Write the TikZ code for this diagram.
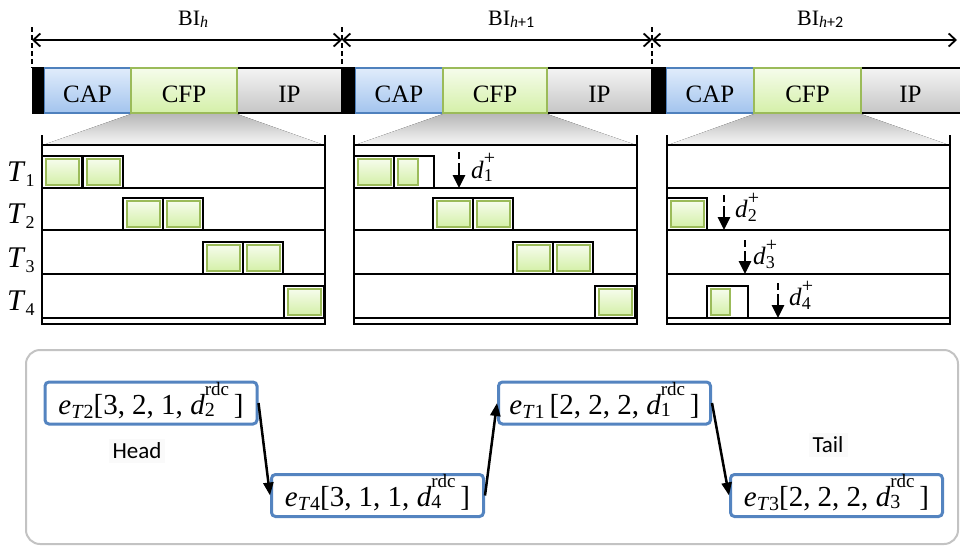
\documentclass[tikz,border=0pt]{standalone}
\usepackage{fontspec}
\setmainfont{Liberation Serif}
\newfontfamily\carlito{Carlito}
\usetikzlibrary{arrows.meta}

\definecolor{capblue}{RGB}{79,129,189}
\definecolor{captop}{RGB}{224,236,251}
\definecolor{capbot}{RGB}{163,196,238}
\definecolor{cfpgreen}{RGB}{155,187,89}
\definecolor{cfptop}{RGB}{246,252,236}
\definecolor{cfpbot}{RGB}{212,240,168}
\definecolor{iptop}{RGB}{244,244,244}
\definecolor{ipbot}{RGB}{198,198,198}
\definecolor{framegray}{RGB}{195,195,195}
\definecolor{nodeblue}{RGB}{84,132,192}

% superscript and subscript stacked after a base letter
% #1 sup size, #2 sup text, #3 raise, #4 sub size, #5 sub text, #6 lower
\newcommand{\SupSub}[6]{%
  \begingroup
  \setbox0=\hbox{\fontsize{#1}{#1}\selectfont #2}%
  \setbox2=\hbox{\fontsize{#4}{#4}\selectfont #5}%
  \dimen0=\wd0 \ifdim\wd2>\dimen0 \dimen0=\wd2 \fi
  \hbox to \dimen0{\rlap{\raise#3\box0}\lower#6\box2\hss}%
  \endgroup}
% lowered subscript
\newcommand{\Lsub}[3]{\lower#2\hbox{\fontsize{#1}{#1}\selectfont #3}}
% entry of the chain: device number, gap, fields, device number of d
\newcommand{\Entry}[4]{\textit{e}\Lsub{20pt}{4pt}{\textit{T}#1}#2[#3, \textit{d}\SupSub{19pt}{rdc}{19pt}{20pt}{#4}{2pt}\,]}

\begin{document}
\begin{tikzpicture}[x=1pt,y=-1pt,
  capbox/.style={draw=capblue, line width=1.8pt, top color=captop, bottom color=capbot},
  cfpbox/.style={draw=cfpgreen, line width=2.2pt, top color=cfptop, bottom color=cfpbot},
  ipbox/.style={draw=black, line width=2pt, top color=iptop, bottom color=ipbot},
  barlbl/.style={font=\fontsize{25}{25}\selectfont, inner sep=0pt, anchor=base},
  bilbl/.style={font=\fontsize{22}{22}\selectfont, inner sep=0pt, anchor=base west},
  tlbl/.style={font=\fontsize{30}{30}\selectfont, inner sep=0pt, anchor=base west},
  dlbl/.style={font=\fontsize{25}{25}\selectfont, inner sep=0pt, anchor=base west},
  slotframe/.style={draw=black, line width=2pt, fill=white},
  slotfill/.style={draw=cfpgreen, line width=2.2pt, top color=cfptop, bottom color=cfpbot},
  zoomfan/.style={top color=black!28, bottom color=black!3},
  panelside/.style={line width=2.6pt},
  rowline/.style={line width=1.7pt},
  spanarrow/.style={line width=1.8pt, {Straight Barb[length=7pt,width=13pt]}-{Straight Barb[length=7pt,width=13pt]}},
  tick/.style={line width=1.8pt, dash pattern=on 5pt off 3pt},
  dtick/.style={line width=2.8pt},
  darrow/.style={line width=2.8pt, -{Triangle[length=13pt,width=12pt]}},
  chainnode/.style={draw=nodeblue, line width=3pt, rounded corners=4pt, fill=white,
    minimum width=212pt, minimum height=42pt, inner sep=0pt,
    font=\fontsize{29}{29}\selectfont, text height=26pt, text depth=4pt},
  chainarrow/.style={line width=2.5pt, -{Triangle[length=13pt,width=10pt]}},
  endlbl/.style={font=\carlito\fontsize{23}{23}\selectfont, fill=black!2, inner sep=4pt},
  framebox/.style={draw=framegray, line width=2pt, rounded corners=14pt}
]
\useasboundingbox (0,0) rectangle (960,546);

% ---------- beacon intervals ----------
\coordinate (s0) at (32,40);
\coordinate (s1) at (342,40);
\coordinate (s2) at (652,40);
\coordinate (s3) at (957,40);
\foreach \x in {32,342,652} \draw[tick] (\x,27) -- (\x,68);
\draw[spanarrow] (s0) -- (s1);
\draw[spanarrow] (s1) -- (s2);
\draw[spanarrow] (s2) -- (s3);
\node[bilbl] (bi0) at (178,25) {BI\Lsub{16pt}{2.5pt}{\textit{h}}};
\node[bilbl] (bi1) at (488,25) {BI\Lsub{16pt}{2.5pt}{\textit{h}{\carlito +1}}};
\node[bilbl] (bi2) at (797,25) {BI\Lsub{16pt}{2.5pt}{\textit{h}{\carlito +2}}};

% superframe bars: beacon / CAP / CFP / IP
\foreach \k/\a/\b/\c/\d/\e in {0/32/44/131/237/342, 1/342/355/443/547/652, 2/652/666/754/861/964} {
  \draw[ipbox] (\d,68) rectangle (\e,113);
  \draw[capbox] (\b,68) rectangle (\c,113);
  \draw[cfpbox] (\c,68) rectangle (\d,113);
  \fill[black] (\a,67) rectangle (\b,114);
  \node[barlbl] (cap\k) at ({(\b+\c)/2},102) {CAP};
  \node[barlbl] (cfp\k) at ({(\c+\d)/2},102) {CFP};
}
\node[barlbl] (ip0) at (289.5,102) {IP};
\node[barlbl] (ip1) at (599.5,102) {IP};
\node[barlbl] (ip2) at (910.5,102) {IP};

% ---------- CFP schedules ----------
\foreach \cl/\cr/\p in {131/237/42, 443/547/354, 754/861/667} {
  \fill[zoomfan] (\cl,114) -- (\cr,114) -- (\p+282,145) -- (\p+1,145) -- cycle;
  \foreach \y in {145,188,230,274,318} \draw[rowline] (\p,\y) -- (\p+283,\y);
  \draw[panelside] (\p,324) -- (\p+283,324);
  \draw[panelside] (\p,135) -- (\p,325.3);
  \draw[panelside] (\p+283,135) -- (\p+283,325.3);
}

% full GTS slot: left edge, row bottom
\newcommand{\Slot}[2]{%
  \draw[slotframe] (#1,#2-32) rectangle (#1+40,#2);
  \draw[slotfill] (#1+4,#2-29) rectangle (#1+37,#2-3);}
% slot used only in part: left edge, row bottom, frame width, fill width
\newcommand{\PartSlot}[4]{%
  \draw[slotframe] (#1,#2-32) rectangle (#1+#3,#2);
  \draw[slotfill] (#1+4,#2-29) rectangle (#1+4+#4,#2-3);}

% interval h
\Slot{42}{188}\Slot{83}{188}
\Slot{123}{230}\Slot{163}{230}
\Slot{203}{274}\Slot{243}{274}
\Slot{284}{318}
% interval h+1
\Slot{354}{188}\PartSlot{394}{188}{40}{20}
\Slot{433}{230}\Slot{473}{230}
\Slot{513}{274}\Slot{553}{274}
\Slot{595}{318}
% interval h+2
\Slot{667}{230}
\PartSlot{707}{318}{41}{19}

% reductions
\foreach \x/\t/\b in {459/152/188, 724/195/230, 745/240/274, 778/283/318} {
  \draw[dtick] (\x,\t) -- (\x,\t+7);
  \draw[darrow] (\x,\t+11) -- (\x,\b);
}
\node[dlbl] (d1) at (471,178) {\textit{d}\SupSub{20pt}{+}{14pt}{18pt}{1}{3pt}};
\node[dlbl] (d2) at (735,217) {\textit{d}\SupSub{20pt}{+}{13pt}{18pt}{2}{4pt}};
\node[dlbl] (d3) at (753,264) {\textit{d}\SupSub{20pt}{+}{13pt}{18pt}{3}{4pt}};
\node[dlbl] (d4) at (789,305) {\textit{d}\SupSub{20pt}{+}{13pt}{18pt}{4}{4pt}};

% device labels
\node[tlbl] (t1) at (7,181) {\textit{T}\Lsub{18pt}{5pt}{1}};
\node[tlbl] (t2) at (7,223) {\textit{T}\Lsub{18pt}{5pt}{2}};
\node[tlbl] (t3) at (7,267) {\textit{T}\Lsub{18pt}{5pt}{3}};
\node[tlbl] (t4) at (7,310) {\textit{T}\Lsub{18pt}{5pt}{4}};

% ---------- linked list ----------
\draw[framebox] (26,350) rectangle (958,544);
\node[chainnode] (n2) at (151,403) {\Entry{2}{}{3, 2, 1}{2}};
\node[chainnode] (n4) at (377.5,495.5) {\Entry{4}{}{3, 1, 1}{4}};
\node[chainnode] (n1) at (604.5,403) {\Entry{1}{\hspace{5pt}}{2, 2, 2}{1}};
\node[chainnode] (n3) at (836.5,495.5) {\Entry{3}{}{2, 2, 2}{3}};
\draw[chainarrow] (n2.east) -- (n4.west);
\draw[chainarrow] (n4.east) -- (n1.west);
\draw[chainarrow] (n1.east) -- (n3.west);
\node[endlbl] (head) at (137,451) {Head};
\node[endlbl] (tail) at (828,445) {Tail};
\end{tikzpicture}
\end{document}
